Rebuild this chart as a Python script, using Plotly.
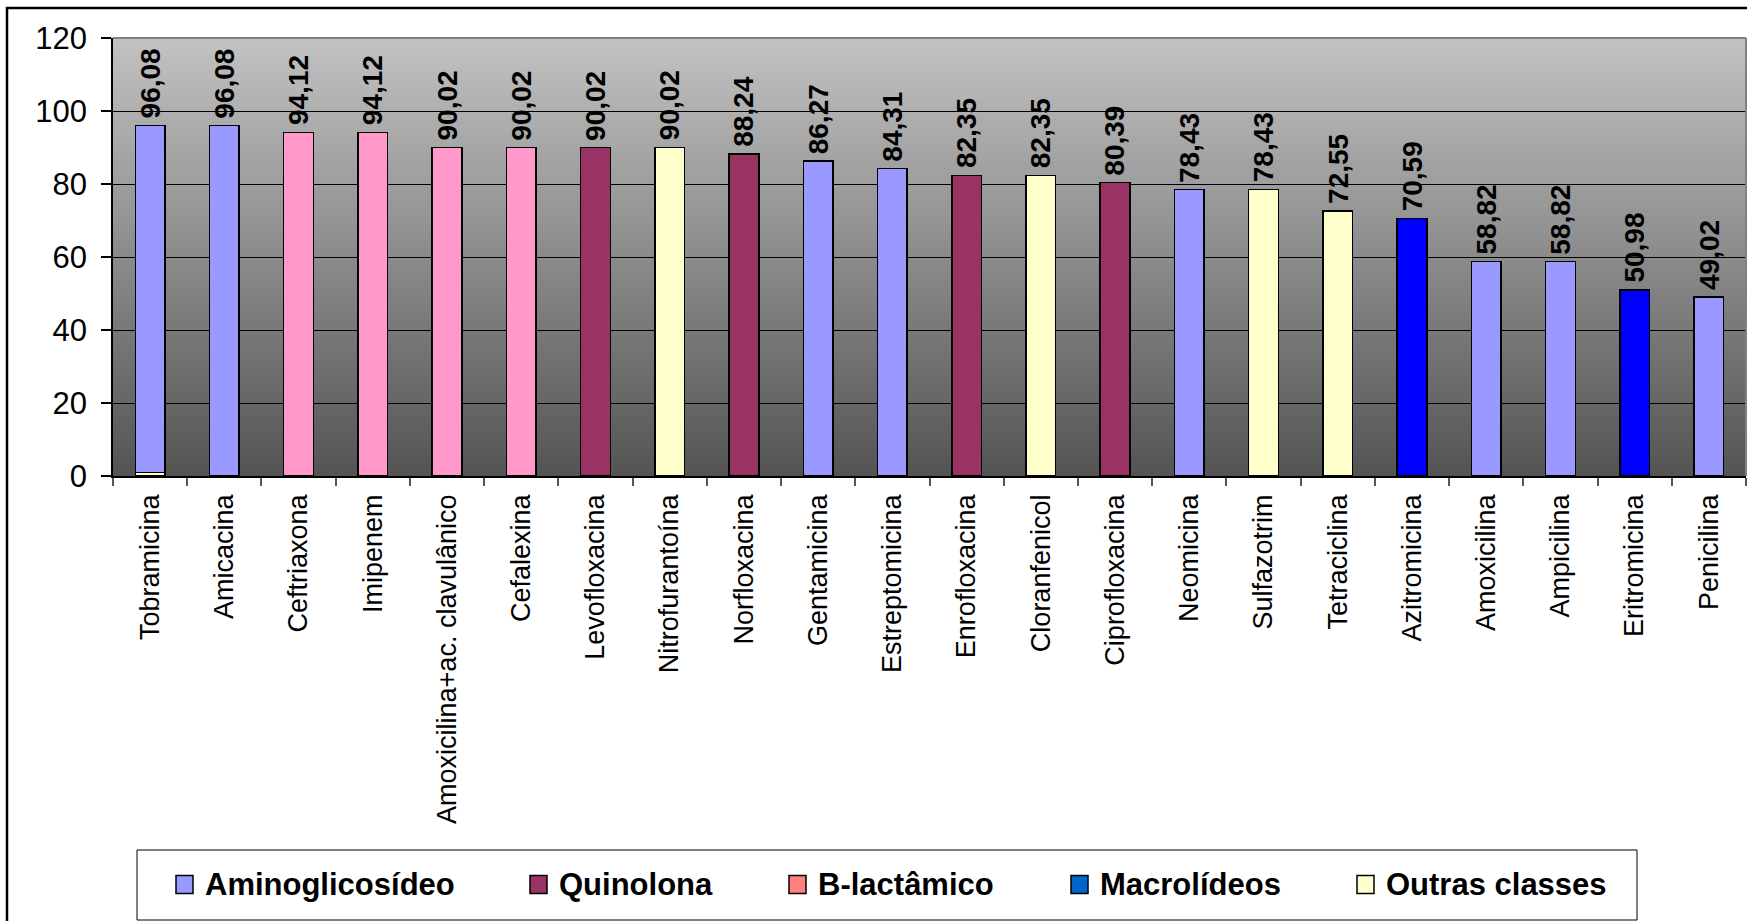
import plotly.graph_objects as go

categorias = ["Tobramicina", "Amicacina", "Ceftriaxona", "Imipenem",
              "Amoxicilina+ac. clavulânico", "Cefalexina", "Levofloxacina",
              "Nitrofurantoína", "Norfloxacina", "Gentamicina", "Estreptomicina",
              "Enrofloxacina", "Cloranfenicol", "Ciprofloxacina", "Neomicina",
              "Sulfazotrim", "Tetraciclina", "Azitromicina", "Amoxicilina",
              "Ampicilina", "Eritromicina", "Penicilina"]
valores = [96.08, 96.08, 94.12, 94.12, 90.02, 90.02, 90.02, 90.02, 88.24, 86.27,
           84.31, 82.35, 82.35, 80.39, 78.43, 78.43, 72.55, 70.59, 58.82, 58.82,
           50.98, 49.02]
classes = ["Aminoglicosídeo", "Aminoglicosídeo", "B-lactâmico", "B-lactâmico",
           "B-lactâmico", "B-lactâmico", "Quinolona", "Outras classes", "Quinolona",
           "Aminoglicosídeo", "Aminoglicosídeo", "Quinolona", "Outras classes",
           "Quinolona", "Aminoglicosídeo", "Outras classes", "Outras classes",
           "Macrolídeos", "Aminoglicosídeo", "Aminoglicosídeo", "Macrolídeos",
           "Aminoglicosídeo"]
# small "Outras classes" segment at the base of the first bar
base_outras = [1.0, None, None, None, None, None, None, None, None, None, None,
               None, None, None, None, None, None, None, None, None, None, None]

nomes_classes = ["Aminoglicosídeo", "Quinolona", "B-lactâmico", "Macrolídeos", "Outras classes"]
cores_barras = {"Aminoglicosídeo": "#9999FF", "Quinolona": "#993366",
                "B-lactâmico": "#FF99CC", "Macrolídeos": "#0000FF",
                "Outras classes": "#FFFFCC"}
cores_legenda = {"Aminoglicosídeo": "#9999FF", "Quinolona": "#993366",
                 "B-lactâmico": "#FF8080", "Macrolídeos": "#0066CC",
                 "Outras classes": "#FFFFCC"}

W, H = 1747, 921
ML, MR, MT, MB = 113, 1, 38, 445
PW = W - ML - MR
PH = H - MT - MB
FONT = "Liberation Sans, Arial, sans-serif"


def px_x(px):
    return (px - ML) / PW


def px_y(py):
    return (H - MB - py) / PH


fig = go.Figure()

fig.add_trace(go.Bar(x=categorias, y=base_outras, showlegend=False,
                     marker=dict(color=cores_barras["Outras classes"],
                                 line=dict(color="black", width=1.5))))

for cls in nomes_classes:
    ys = []
    for v, c, b in zip(valores, classes, base_outras):
        ys.append((v - (b or 0)) if c == cls else None)
    fig.add_trace(go.Bar(x=categorias, y=ys, name=cls, showlegend=False,
                         marker=dict(color=cores_barras[cls],
                                     line=dict(color="black", width=1.5))))

shapes = []
# gradient background
N = 120
top, bot = 194, 84
for i in range(N):
    t = (i + 0.5) / N
    g = round(bot + (top - bot) * t)
    shapes.append(dict(type="rect", xref="x domain", yref="y domain",
                       x0=0, x1=1, y0=i / N, y1=(i + 1) / N + 0.002,
                       fillcolor=f"rgb({g},{g},{g})", line=dict(width=0),
                       layer="below"))
# plot area border (top/right)
shapes.append(dict(type="line", xref="x domain", yref="y domain", x0=0, x1=1, y0=1, y1=1,
                   line=dict(color="#808080", width=2), layer="above"))
shapes.append(dict(type="line", xref="x domain", yref="y domain", x0=1, x1=1, y0=0, y1=1,
                   line=dict(color="#808080", width=2), layer="above"))
# outer chart frame
shapes.append(dict(type="rect", xref="paper", yref="paper",
                   x0=px_x(7), x1=px_x(1800), y0=px_y(8), y1=px_y(1000),
                   line=dict(color="black", width=2.5), fillcolor="rgba(0,0,0,0)"))
# legend box
shapes.append(dict(type="rect", xref="paper", yref="paper",
                   x0=px_x(137), x1=px_x(1637), y0=px_y(850), y1=px_y(920),
                   line=dict(color="black", width=1), fillcolor="white"))

annotations = []
for cat, v in zip(categorias, valores):
    annotations.append(dict(x=cat, y=v, xref="x", yref="y",
                            text="<b>" + f"{v:.2f}".replace(".", ",") + "</b>",
                            textangle=-90, showarrow=False, yanchor="bottom", xanchor="center",
                            yshift=5, font=dict(family=FONT, size=28, color="black")))

leg_x = [176, 530, 789, 1071, 1357]
leg_y = 884.5
for cls, lx in zip(nomes_classes, leg_x):
    shapes.append(dict(type="rect", xref="paper", yref="paper",
                       x0=px_x(lx), x1=px_x(lx + 17), y0=px_y(leg_y - 9), y1=px_y(leg_y + 9),
                       line=dict(color="black", width=1.5), fillcolor=cores_legenda[cls]))
    annotations.append(dict(x=px_x(lx + 27), y=px_y(leg_y), xref="paper", yref="paper",
                            text=f"<b>{cls}</b>", showarrow=False, xanchor="left",
                            yanchor="middle", font=dict(family=FONT, size=31, color="black")))

fig.update_layout(
    width=W, height=H,
    margin=dict(l=ML, r=MR, t=MT, b=MB, pad=0),
    paper_bgcolor="white", plot_bgcolor="#8c8c8c",
    barmode="stack", bargap=0.6,
    showlegend=False,
    shapes=shapes, annotations=annotations,
    font=dict(family=FONT, color="black"),
    xaxis=dict(type="category", showline=True, linecolor="black", linewidth=1.5,
               ticks="outside", tickson="boundaries", ticklen=8, tickcolor="#555555",
               tickwidth=1.5, tickangle=-90, tickfont=dict(family=FONT, size=27, color="black"),
               showgrid=False, ticklabelstandoff=6),
    yaxis=dict(range=[0, 120], dtick=20, showline=True, linecolor="black", linewidth=1.5,
               ticks="outside", ticklen=10, tickcolor="black", tickwidth=1.5,
               showgrid=True, gridcolor="black", gridwidth=1, zeroline=False,
               tickfont=dict(family=FONT, size=31, color="black"), ticklabelstandoff=8),
)

fig.write_html("out.html", config={"displayModeBar": False},
               post_script="document.body.style.margin='0';document.body.style.overflow='hidden';")
